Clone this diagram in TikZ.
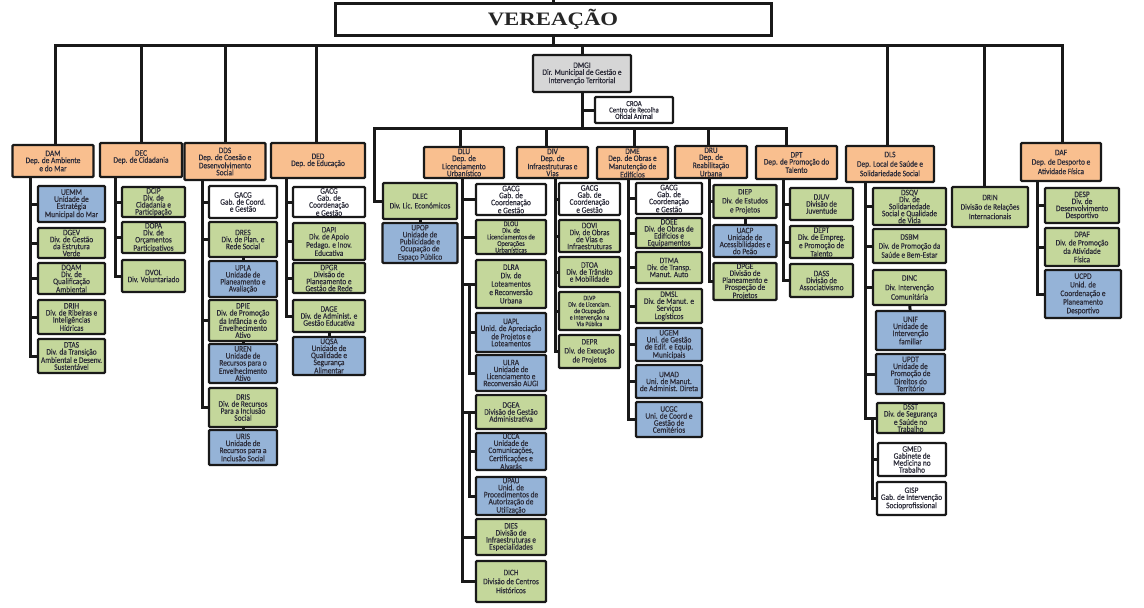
\documentclass[tikz,border=0pt]{standalone}
\usepackage{fontspec}
\setmainfont{Carlito}[FakeStretch=0.88, FakeBold=0.35]
\newfontfamily\titlefont{Liberation Serif}[FakeStretch=1.2]

\definecolor{orgorange}{RGB}{249,191,143}
\definecolor{orggreen}{RGB}{196,215,155}
\definecolor{orgblue}{RGB}{149,179,215}
\definecolor{orggray}{RGB}{214,214,214}
\definecolor{orgtext}{RGB}{45,45,58}

\tikzstyle{unitbox}=[draw=black!90, line width=2.4pt, rounded corners=1pt, inner xsep=1pt, inner ysep=0pt, align=center, text=orgtext, font=\fontsize{8.4}{7}\selectfont]
\tikzstyle{depbox}=[unitbox, fill=orgorange]
\tikzstyle{grnbox}=[unitbox, fill=orggreen]
\tikzstyle{blubox}=[unitbox, fill=orgblue]
\tikzstyle{whtbox}=[unitbox, fill=white]
\tikzstyle{grybox}=[unitbox, fill=orggray]
\tikzstyle{lnk}=[draw=black!90, line width=3pt, line cap=rect]

\begin{document}
\begin{tikzpicture}[x=1pt, y=-1pt, sz/.style 2 args={minimum width=#1pt, minimum height=#2pt}]
    \useasboundingbox (0,0) rectangle (1144,608);

    % top level
    \node [draw=black!90, line width=3pt, fill=white, sz={436}{32}, text=black!85,
           font=\titlefont\bfseries\fontsize{19}{19}\selectfont] (ver) at (553,19) {VEREAÇÃO};
    \coordinate (top) at (553,0);
    \coordinate (b-dam) at (55,45);
    \coordinate (b-dec) at (141,45);
    \coordinate (b-dds) at (225,45);
    \coordinate (b-ded) at (316,45);
    \coordinate (b-dmgi) at (582,45);
    \coordinate (b-dls) at (887,45);
    \coordinate (b-drin) at (984,45);
    \coordinate (b-daf) at (1062,45);

    \node [grybox, sz={98}{37}] (dmgi) at (582,73.5) {DMGI\\Dir. Municipal de Gestão e\\Intervenção Territorial};
    \node [whtbox, sz={78}{26}, font=\fontsize{7.6}{6.4}\selectfont] (croa) at (634,110) {CROA\\Centro de Recolha\\Oficial Animal};
    \coordinate (b2-dlec) at (374,128);
    \coordinate (b2-dmgi) at (582,128);
    \coordinate (b2-dlu) at (460,128);
    \coordinate (b2-div) at (546,128);
    \coordinate (b2-dme) at (634,128);
    \coordinate (b2-dru) at (708,128);
    \coordinate (b2-dpt) at (786,128);

    % departamentos
    \node [depbox, sz={81}{32}] (dam) at (53,161) {DAM\\Dep. de Ambiente\\e do Mar};
    \node [depbox, sz={82}{34}] (dec) at (141,160) {DEC\\Dep. de Cidadania\\~};
    \node [depbox, sz={81}{37}] (dds) at (225,161.5) {DDS\\Dep. de Coesão e\\Desenvolvimento\\Social};
    \node [depbox, sz={94}{35}] (ded) at (318,160.5) {DED\\Dep. de Educação};
    \node [depbox, sz={80}{31}] (dlu) at (464,162.5) {DLU\\Dep. de\\Licenciamento\\Urbanístico};
    \node [depbox, sz={71}{31}] (div) at (552.5,162.5) {DIV\\Dep. de\\Infraestruturas e\\Vias};
    \node [depbox, sz={71}{32}] (dme) at (632.5,163) {DME\\Dep. de Obras e\\Manutenção de\\Edifícios};
    \node [depbox, sz={72}{32}] (dru) at (711,162) {DRU\\Dep. de\\Reabilitação\\Urbana};
    \node [depbox, sz={81}{33}] (dpt) at (796.5,162.5) {DPT\\Dep. de Promoção do\\Talento};
    \node [depbox, sz={88}{36}, font=\fontsize{8.4}{9.5}\selectfont] (dls) at (890,164) {DLS\\Dep. Local de Saúde e\\Solidariedade Social};
    \node [grnbox, sz={76}{40}, font=\fontsize{8.4}{9.5}\selectfont] (drin) at (990,207) {DRIN\\Divisão de Relações\\Internacionais};
    \node [depbox, sz={80}{38}, font=\fontsize{8.4}{9.5}\selectfont] (daf) at (1061,162) {DAF\\Dep. de Desporto e\\Atividade Física};

    % DAM
    \coordinate (t-dam) at (30,177);
    \node [blubox, sz={67}{36}] (uemm) at (71.5,204) {UEMM\\Unidade de\\Estratégia\\Municipal do Mar};
    \node [grnbox, sz={67}{30}] (dgev) at (71.5,243) {DGEV\\Div. de Gestão\\da Estrutura\\Verde};
    \node [grnbox, sz={67}{31}] (dqam) at (71.5,278.5) {DQAM\\Div. de\\Qualificação\\Ambiental};
    \node [grnbox, sz={67}{34}] (drih) at (71.5,317) {DRIH\\Div. de Ribeiras e\\Inteligências\\Hídricas};
    \node [grnbox, sz={67}{34}] (dtas) at (71.5,356) {DTAS\\Div. da Transição\\Ambiental e Desenv.\\Sustentável};

    % DEC
    \coordinate (t-dec) at (115,177);
    \node [grnbox, sz={63}{30}] (dcip) at (153.5,202) {DCIP\\Div. de\\Cidadania e\\Participação};
    \node [grnbox, sz={63}{31}] (dopa) at (153.5,237.5) {DOPA\\Div. de\\Orçamentos\\Participativos};
    \node [grnbox, sz={63}{32}] (dvol) at (153.5,276) {DVOL\\Div. Voluntariado};

    % DDS
    \coordinate (t-dds) at (202,180);
    \node [whtbox, sz={68}{32}] (gacg1) at (243,202) {GACG\\Gab. de Coord.\\e Gestão};
    \node [grnbox, sz={68}{35}] (dres) at (243,239.5) {DRES\\Div. de Plan. e\\Rede Social};
    \node [blubox, sz={68}{36}] (upla) at (243,279) {UPLA\\Unidade de\\Planeamento e\\Avaliação};
    \node [grnbox, sz={68}{41}] (dpie) at (243,320.5) {DPIE\\Div. de Promoção\\da Infância e do\\Envelhecimento\\Ativo};
    \node [blubox, sz={68}{39}] (uren) at (243,363.5) {UREN\\Unidade de\\Recursos para o\\Envelhecimento\\Ativo};
    \node [grnbox, sz={68}{39}] (dris) at (243,407.5) {DRIS\\Div. de Recursos\\Para a Inclusão\\Social};
    \node [blubox, sz={68}{35}] (uris) at (243,447.5) {URIS\\Unidade de\\Recursos para a\\Inclusão Social};

    % DED
    \coordinate (t-ded) at (286,178);
    \node [whtbox, sz={72}{30}] (gacg2) at (329,202) {GACG\\Gab. de\\Coordenação\\e Gestão};
    \node [grnbox, sz={72}{37}] (dapi) at (329,241.5) {DAPI\\Div. de Apoio\\Pedago. e Inov.\\Educativa};
    \node [grnbox, sz={72}{30}] (dpgr) at (329,278) {DPGR\\Divisão de\\Planeamento e\\Gestão de Rede};
    \node [grnbox, sz={72}{32}] (dage) at (329,316) {DAGE\\Div. de Administ. e\\Gestão Educativa};
    \node [blubox, sz={72}{38}] (uqsa) at (329,356) {UQSA\\Unidade de\\Qualidade e\\Segurança\\Alimentar};

    % DLEC
    \node [grnbox, sz={74}{36}, font=\fontsize{8.4}{9.5}\selectfont] (dlec) at (420,201) {DLEC\\Div. Lic. Económicos};
    \node [blubox, sz={75}{40}] (upop) at (420,243) {UPOP\\Unidade de\\Publicidade e\\Ocupação de\\Espaço Público};

    % DLU
    \coordinate (t-dlu) at (462,178);
    \node [whtbox, sz={70}{31}] (gacg3) at (511,199.5) {GACG\\Gab. de\\Coordenação\\e Gestão};
    \node [grnbox, sz={70}{34}, font=\fontsize{7.2}{6.6}\selectfont] (dlou) at (511,237) {DLOU\\Div. de\\Licenciamentos de\\Operações\\Urbanísticas};
    \node [grnbox, sz={70}{48}, font=\fontsize{8.4}{8.4}\selectfont] (dlra) at (511,284) {DLRA\\Div. de\\Loteamentos\\e Reconversão\\Urbana};
    \coordinate (t-dlra) at (469,284);
    \node [blubox, sz={70}{39}] (uapl) at (511,332.5) {UAPL\\Unid. de Apreciação\\de Projetos e\\Loteamentos};
    \node [blubox, sz={70}{36}] (ulra) at (511,373) {ULRA\\Unidade de\\Licenciamento e\\Reconversão AUGI};
    \node [grnbox, sz={70}{34}] (dgea) at (511,412) {DGEA\\Divisão de Gestão\\Administrativa};
    \coordinate (t-dgea) at (469,412);
    \node [blubox, sz={70}{37}] (ucca) at (511,451.5) {UCCA\\Unidade de\\Comunicações,\\Certificações e\\Alvarás};
    \node [blubox, sz={70}{38}] (upau) at (511,496) {UPAU\\Unid. de\\Procedimentos de\\Autorização de\\Utilização};
    \node [grnbox, sz={70}{36}] (dies) at (511,537) {DIES\\Divisão de\\Infraestruturas e\\Especialidades};
    \node [grnbox, sz={70}{41}, font=\fontsize{8.4}{9}\selectfont] (dich) at (511,581.5) {DICH\\Divisão de Centros\\Históricos};

    % DIV
    \coordinate (t-div) at (555,178);
    \node [whtbox, sz={61}{32}] (gacg4) at (589.5,199) {GACG\\Gab. de\\Coordenação\\e Gestão};
    \node [grnbox, sz={61}{32}] (dovi) at (589.5,236) {DOVI\\Div. de Obras\\de Vias e\\Infraestruturas};
    \node [grnbox, sz={61}{30}] (dtoa) at (589.5,272) {DTOA\\Div. de Trânsito\\e Mobilidade};
    \node [grnbox, sz={61}{38}, font=\fontsize{6.6}{6.5}\selectfont] (dlvp) at (589.5,311) {DLVP\\Div. de Licenciam.\\de Ocupação\\e Intervenção na\\Via Pública};
    \node [grnbox, sz={61}{33}, font=\fontsize{8.4}{9}\selectfont] (depr) at (589.5,351.5) {DEPR\\Div. de Execução\\de Projetos};

    % DME
    \coordinate (t-dme) at (628,179);
    \node [whtbox, sz={66}{31}] (gacg5) at (669,198.5) {GACG\\Gab. de\\Coordenação\\e Gestão};
    \node [grnbox, sz={66}{30}] (doee) at (669,233) {DOEE\\Div. de Obras de\\Edifícios e\\Equipamentos};
    \node [grnbox, sz={66}{31}] (dtma) at (669,267.5) {DTMA\\Div. de Transp.\\Manut. Auto};
    \node [grnbox, sz={66}{34}] (dmsl) at (669,306) {DMSL\\Div. de Manut. e\\Serviços\\Logísticos};
    \node [blubox, sz={66}{33}] (ugem) at (669,344.5) {UGEM\\Uni. de Gestão\\de Edif. e Equip.\\Municipais};
    \node [blubox, sz={66}{33}] (umad) at (669,381.5) {UMAD\\Uni. de Manut.\\de Administ. Direta};
    \node [blubox, sz={66}{35}] (ucgc) at (669,419.5) {UCGC\\Uni. de Coord e\\Gestão de\\Cemitérios};

    % DRU
    \coordinate (t-dru) at (709,178);
    \node [grnbox, sz={63}{33}, font=\fontsize{8.4}{9}\selectfont] (diep) at (745,201.5) {DIEP\\Div. de Estudos\\e Projetos};
    \node [blubox, sz={63}{32}] (uacp) at (745,241) {UACP\\Unidade de\\Acessibilidades e\\do Peão};
    \node [grnbox, sz={63}{37}] (dpge) at (745,281.5) {DPGE\\Divisão de\\Planeamento e\\Prospeção de\\Projetos};

    % DPT
    \coordinate (t-dpt) at (783,179);
    \node [grnbox, sz={63}{32}] (djuv) at (821.5,204) {DJUV\\Divisão de\\Juventude};
    \node [grnbox, sz={63}{32}] (dept) at (821.5,242) {DEPT\\Div. de Empreg.\\e Promoção de\\Talento};
    \node [grnbox, sz={63}{33}] (dass) at (821.5,280.5) {DASS\\Divisão de\\Associativismo};

    % DLS
    \coordinate (t-dls) at (865,182);
    \node [grnbox, sz={73}{37}] (dsqv) at (909.5,206.5) {DSQV\\Div. de\\Solidariedade\\Social e Qualidade\\de Vida};
    \node [grnbox, sz={73}{34}, font=\fontsize{8.4}{9}\selectfont] (dsbm) at (909.5,246) {DSBM\\Div. de Promoção da\\Saúde e Bem-Estar};
    \node [grnbox, sz={73}{35}, font=\fontsize{8.4}{9.5}\selectfont] (dinc) at (909.5,287.5) {DINC\\Div. Intervenção\\Comunitária};
    \node [blubox, sz={69}{39}] (unif) at (910.5,330.5) {UNIF\\Unidade de\\Intervenção\\familiar};
    \node [blubox, sz={69}{40}] (updt) at (910.5,374) {UPDT\\Unidade de\\Promoção de\\Direitos do\\Território};
    \node [grnbox, sz={67}{30}] (dsst) at (910.5,418) {DSST\\Div. de Segurança\\e Saúde no\\Trabalho};
    \coordinate (t-dsst) at (872,418);
    \node [whtbox, sz={68}{33}] (gmed) at (912,459.5) {GMED\\Gabinete de\\Medicina no\\Trabalho};
    \node [whtbox, sz={69}{33}] (gisp) at (911.5,498.5) {GISP\\Gab. de Intervenção\\Socioprofissional};

    % DAF
    \coordinate (t-daf) at (1037,181);
    \node [grnbox, sz={74}{35}] (desp) at (1082,205.5) {DESP\\Div. de\\Desenvolvimento\\Desportivo};
    \node [grnbox, sz={74}{38}, font=\fontsize{8.4}{8.4}\selectfont] (dpaf) at (1082,247) {DPAF\\Div. de Promoção\\da Atividade\\Física};
    \node [blubox, sz={76}{48}, font=\fontsize{8.4}{8.6}\selectfont] (ucpd) at (1083,294) {UCPD\\Unid. de\\Coordenação e\\Planeamento\\Desportivo};

    % ligacoes de topo
    \draw [lnk] (top) -- (ver);
    \draw [lnk] (ver) -- (ver.south |- b-dam);
    \draw [lnk] (b-dam) -- (b-daf);
    \foreach \d in {dam,dec,dds,ded,dmgi,dls,drin,daf}
        \draw [lnk] (b-\d) -- (b-\d |- \d.north);
    \draw [lnk] (dmgi) -- (b2-dmgi);
    \draw [lnk] (dmgi.south |- croa.west) -- (croa);
    \draw [lnk] (b2-dlec) -- (b2-dpt);
    \foreach \d in {dlu,div,dme,dru,dpt}
        \draw [lnk] (b2-\d) -- (b2-\d |- \d.north);
    \draw [lnk] (b2-dlec) |- (dlec);

    % ramos
    \foreach \d/\c in {dam/uemm,dam/dgev,dam/dqam,dam/drih,dam/dtas,
                       dec/dcip,dec/dopa,dec/dvol,
                       dds/gacg1,dds/dres,dds/dpie,dds/dris,
                       ded/gacg2,ded/dapi,ded/dpgr,ded/dage,
                       dlu/gacg3,dlu/dlou,dlu/dlra,dlu/dgea,dlu/dies,dlu/dich,
                       div/gacg4,div/dovi,div/dtoa,div/dlvp,div/depr,
                       dme/gacg5,dme/doee,dme/dtma,dme/dmsl,dme/ugem,dme/umad,dme/ucgc,
                       dru/diep,dru/dpge,
                       dpt/djuv,dpt/dept,dpt/dass,
                       dls/dsqv,dls/dsbm,dls/dinc,dls/updt,dls/dsst,
                       daf/desp,daf/dpaf,daf/ucpd,
                       dlra/uapl,dlra/ulra,dgea/ucca,dgea/upau,dsst/gmed,dsst/gisp}
        \draw [lnk] (t-\d) |- (\c.west);
    \foreach \a/\b in {dres/upla,dpie/uren,dris/uris,dage/uqsa,dlec/upop,diep/uacp,dinc/unif}
        \draw [lnk] (\a) -- (\b);
\end{tikzpicture}
\end{document}
